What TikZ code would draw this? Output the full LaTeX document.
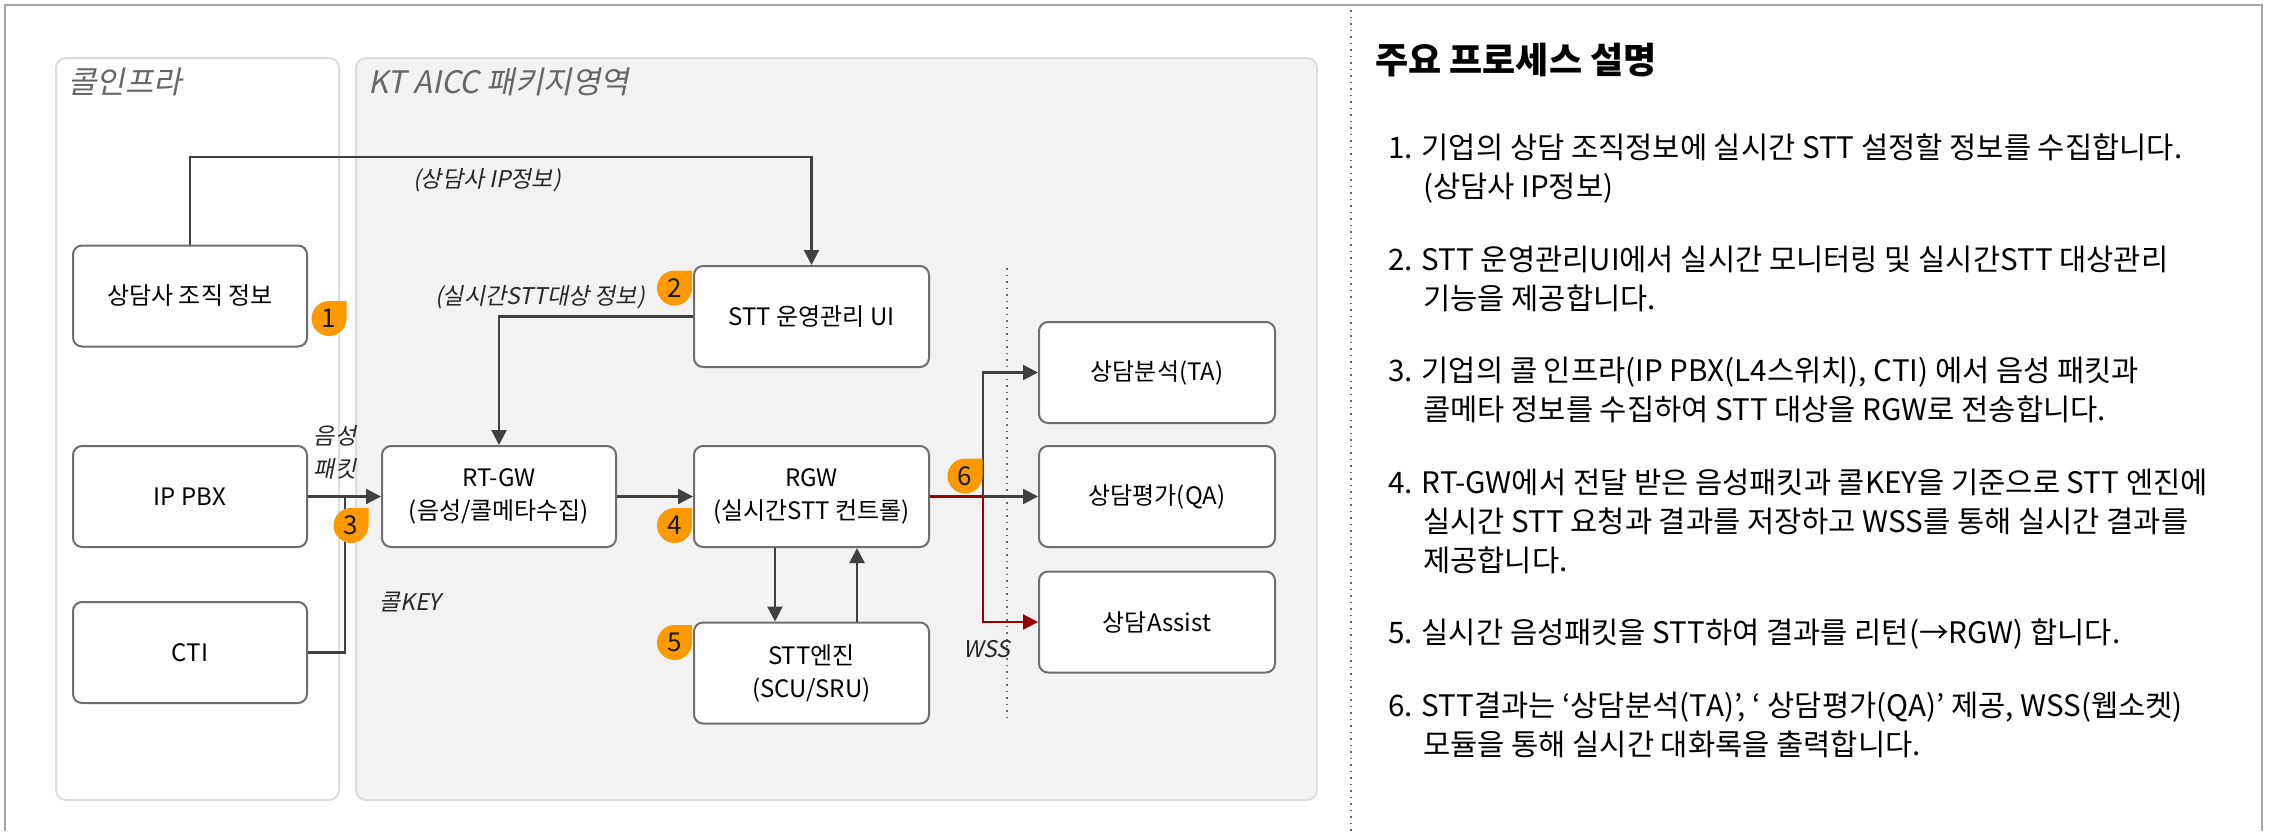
\documentclass[tikz,border=0pt]{standalone}
\usepackage{fontspec}
\setmainfont{Noto Sans CJK KR}
\newfontfamily\slkr{Noto Sans CJK KR}[FakeSlant=0.2]
\usetikzlibrary{arrows.meta}
\definecolor{lineC}{HTML}{404040}
\definecolor{boxB}{HTML}{6E6E6E}
\definecolor{panelB}{HTML}{DDDDDD}
\definecolor{panelF}{HTML}{F2F2F2}
\definecolor{badgeC}{HTML}{FF9900}
\definecolor{redC}{HTML}{990000}
\definecolor{titleC}{HTML}{666666}
\definecolor{frameC}{HTML}{A6A6A6}
\definecolor{dotC}{HTML}{666666}
\newcommand{\mybadge}[4]{%
  \fill[badgeC] (#2,#3) circle[radius=17.5] (#2,#3) rectangle ++(17.5,-17.5);
  \node[badgenum] (#1) at (#2,#3) {#4};}
\tikzset{
  box/.style={draw=boxB, line width=2pt, fill=white, rounded corners=9pt,
    minimum width=234pt, minimum height=101pt, align=center,
    font=\fontsize{24}{33}\selectfont, inner sep=0pt},
  panel/.style={draw=panelB, line width=2pt, rounded corners=10pt},
  conn/.style={draw=lineC, line width=2.2pt},
  arr/.style={conn, -{Triangle[length=15pt,width=15pt]}},
  redconn/.style={draw=redC, line width=2.2pt},
  redarr/.style={redconn, -{Triangle[length=15pt,width=15pt]}},
  lbl/.style={font=\slkr\fontsize{23}{33}\selectfont, text=black!85, inner sep=0pt},
  paneltitle/.style={font=\slkr\fontsize{31}{36}\selectfont, text=titleC, anchor=west,
    inner sep=0pt, text height=0.82em, text depth=0.1em},
  badgenum/.style={font=\fontsize{26}{26}\selectfont, inner sep=0pt, text=black!90},
  listline/.style={font=\fontsize{29.6}{39}\selectfont, anchor=west, inner sep=0pt,
    text height=0.82em, text depth=0.1em, text=black},
  sep/.style={draw=dotC, line width=1.6pt, dash pattern=on 1.8pt off 4.7pt},
}
\begin{document}
\begin{tikzpicture}[x=1pt,y=-1pt]
\useasboundingbox (0,0) rectangle (2269,831);
% outer frame
\draw[frameC, line width=2pt] (5,831) -- (5,5) -- (2262,5) -- (2262,831);
% panels
\draw[panel, fill=white] (56,58) rectangle (339,800);
\draw[panel, fill=panelF] (356,58) rectangle (1317,800);
\node[paneltitle] (tcall) at (68,90) {콜인프라};
\node[paneltitle] (taicc) at (368,90) {KT AICC 패키지영역};
% separators
\coordinate (s1) at (1351,10);
\coordinate (s2) at (1351,831);
\draw[sep] (s1) -- (s2);
\coordinate (d1) at (1007,268);
\coordinate (d2) at (1007,717);
\draw[sep] (d1) -- (d2);
% boxes
\node[box] (org) at (190,296) {상담사 조직 정보};
\node[box] (pbx) at (190,496.5) {IP PBX};
\node[box] (cti) at (190,652.5) {CTI};
\node[box] (rtgw) at (499,496.5) {RT-GW\\(음성/콜메타수집)};
\node[box, minimum width=235pt] (sttui) at (811.5,316.5) {STT 운영관리 UI};
\node[box, minimum width=235pt] (rgw) at (811.5,496.5) {RGW\\(실시간STT 컨트롤)};
\node[box, minimum width=235pt] (engine) at (811.5,673) {STT엔진\\(SCU/SRU)};
\node[box, minimum width=236pt] (ta) at (1157,372.5) {상담분석(TA)};
\node[box, minimum width=236pt] (qa) at (1157,496.5) {상담평가(QA)};
\node[box, minimum width=236pt] (assist) at (1157,622) {상담Assist};
% connectors
\coordinate (top) at (190,157);
\draw[arr] (org.north) -- (org.north |- top) -| (sttui.north);
\draw[arr] (sttui.west) -| (rtgw.north);
\draw[arr] (pbx.east) -- (rtgw.west);
\coordinate (join) at (345,496.5);
\draw[conn] (cti.east) -| (join);
\draw[arr] (rtgw.east) -- (rgw.west);
\draw[arr] ([xshift=-36.5pt]rgw.south) -- ([xshift=-36.5pt]engine.north);
\draw[arr] ([xshift=45.5pt]engine.north) -- ([xshift=45.5pt]rgw.south);
\coordinate (sp) at (983,496.5);
\draw[arr] (sp) -- (qa.west);
\draw[arr] (sp) |- (ta.west);
\draw[redconn] (rgw.east) -- (sp);
\draw[redarr] (sp) |- (assist.west);
% labels
\node[lbl] (lipinfo) at (487,180) {(상담사 IP정보)};
\node[lbl] (lsttinfo) at (540,297) {(실시간STT대상 정보)};
\node[lbl, align=center] (lpacket) at (335,452) {음성\\패킷};
\node[lbl] (lkey) at (410,602) {콜KEY};
\node[lbl] (lwss) at (987,649) {WSS};
% badges
\mybadge{b1}{329}{318.5}{1}
\mybadge{b2}{674.5}{288}{2}
\mybadge{b3}{351}{525.5}{3}
\mybadge{b4}{674.5}{525.5}{4}
\mybadge{b5}{674.5}{642.5}{5}
\mybadge{b6}{965}{476}{6}
% description
\node[anchor=west, inner sep=0pt, font=\bfseries\fontsize{36}{42}\selectfont,
  text height=0.82em, text depth=0.1em] (title) at (1375,70) {주요 프로세스 설명};
\node[listline] (l1a) at (1388,155) {1. 기업의 상담 조직정보에 실시간 STT 설정할 정보를 수집합니다.};
\node[listline] (l1b) at (1423,194) {(상담사 IP정보)};
\node[listline] (l2a) at (1388,266.5) {2. STT 운영관리UI에서 실시간 모니터링 및 실시간STT 대상관리};
\node[listline] (l2b) at (1423,305.5) {기능을 제공합니다.};
\node[listline] (l3a) at (1388,378) {3. 기업의 콜 인프라(IP PBX(L4스위치), CTI) 에서 음성 패킷과};
\node[listline] (l3b) at (1423,417) {콜메타 정보를 수집하여 STT 대상을 RGW로 전송합니다.};
\node[listline] (l4a) at (1388,489.5) {4. RT-GW에서 전달 받은 음성패킷과 콜KEY을 기준으로 STT 엔진에};
\node[listline] (l4b) at (1423,528.5) {실시간 STT 요청과 결과를 저장하고 WSS를 통해 실시간 결과를};
\node[listline] (l4c) at (1423,567.5) {제공합니다.};
\node[listline] (l5) at (1388,640) {5. 실시간 음성패킷을 STT하여 결과를 리턴(→RGW) 합니다.};
\node[listline] (l6a) at (1388,713) {6. STT결과는 ‘상담분석(TA)’, ‘ 상담평가(QA)’ 제공, WSS(웹소켓)};
\node[listline] (l6b) at (1423,752) {모듈을 통해 실시간 대화록을 출력합니다.};
\end{tikzpicture}
\end{document}
